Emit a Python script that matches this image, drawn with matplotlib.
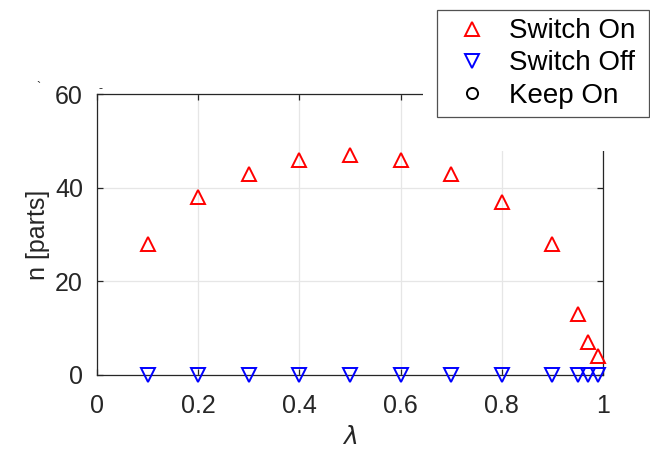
import numpy as np
import matplotlib
matplotlib.use('Agg')
import matplotlib.pyplot as plt
import matplotlib.patches as mpatches

plt.rcParams['font.family'] = ['Liberation Sans', 'DejaVu Sans']

lam = [0.1, 0.2, 0.3, 0.4, 0.5, 0.6, 0.7, 0.8, 0.9, 0.95, 0.97, 0.99]
n_on = [28, 38, 43, 46, 47, 46, 43, 37, 28, 13, 7, 4]
n_off = [0, 0, 0, 0, 0, 0, 0, 0, 0, 0, 0, 0]
n_keep = []
lam_keep = []

dark = '#262626'

fig = plt.figure(figsize=(6.5, 4.49), dpi=100)
ax = fig.add_axes([97/650, 1-375/449, 506/650, 281/449])

ax.plot(lam, n_on, linestyle='None', marker='^', ms=10.5, mfc='none', mec='red', mew=1.4,
        label='Switch On', clip_on=False, zorder=3)
ax.plot(lam, n_off, linestyle='None', marker='v', ms=10.5, mfc='none', mec='blue', mew=1.4,
        label='Switch Off', clip_on=False, zorder=3)
ax.plot(lam_keep, n_keep, linestyle='None', marker='o', ms=8, mfc='none', mec='black', mew=1.4,
        label='Keep On', clip_on=False, zorder=3)

ax.set_xlim(0, 1)
ax.set_ylim(0, 60)
ax.set_xticks([0, 0.2, 0.4, 0.6, 0.8, 1])
ax.set_xticklabels(['0', '0.2', '0.4', '0.6', '0.8', '1'])
ax.set_yticks([0, 20, 40, 60])
ax.grid(True, color='#e6e6e6', linewidth=0.9)
ax.set_axisbelow(True)
for s in ax.spines.values():
    s.set_color(dark)
    s.set_linewidth(0.9)
ax.tick_params(direction='in', length=4, width=0.9, color=dark, labelcolor=dark,
               labelsize=18, top=True, right=True)
ax.tick_params(axis='x', pad=14)
ax.tick_params(axis='y', pad=10)
ax.set_xlabel(r'$\lambda$', fontsize=18, color=dark, labelpad=5)
ax.set_ylabel('n [parts]', fontsize=18, color=dark, labelpad=4)

# white area behind the legend, hiding the corner of the axes
fig.patches.append(mpatches.Rectangle((423/650, 1-151/449), 227/650, 151/449,
                                      transform=fig.transFigure, facecolor='white',
                                      edgecolor='none', zorder=5))

leg = fig.legend(loc='upper left', bbox_to_anchor=(437/650, 1-117/449, 212/650, 107/449),
                 bbox_transform=fig.transFigure,
                 mode='expand', fontsize=20, frameon=True, fancybox=False,
                 handletextpad=0.4, labelspacing=0.22, borderpad=0.3, handlelength=1.9,
                 borderaxespad=0)
leg.get_frame().set_edgecolor(dark)
leg.get_frame().set_linewidth(0.9)
leg.set_zorder(6)

fig.text(38/650, 1-88/449, '`', fontsize=9, color=dark, ha='center', va='center')
fig.text(101/650, 1-89/449, '-', fontsize=9, color=dark, ha='center', va='center')

fig.savefig('out.png', dpi=100)
